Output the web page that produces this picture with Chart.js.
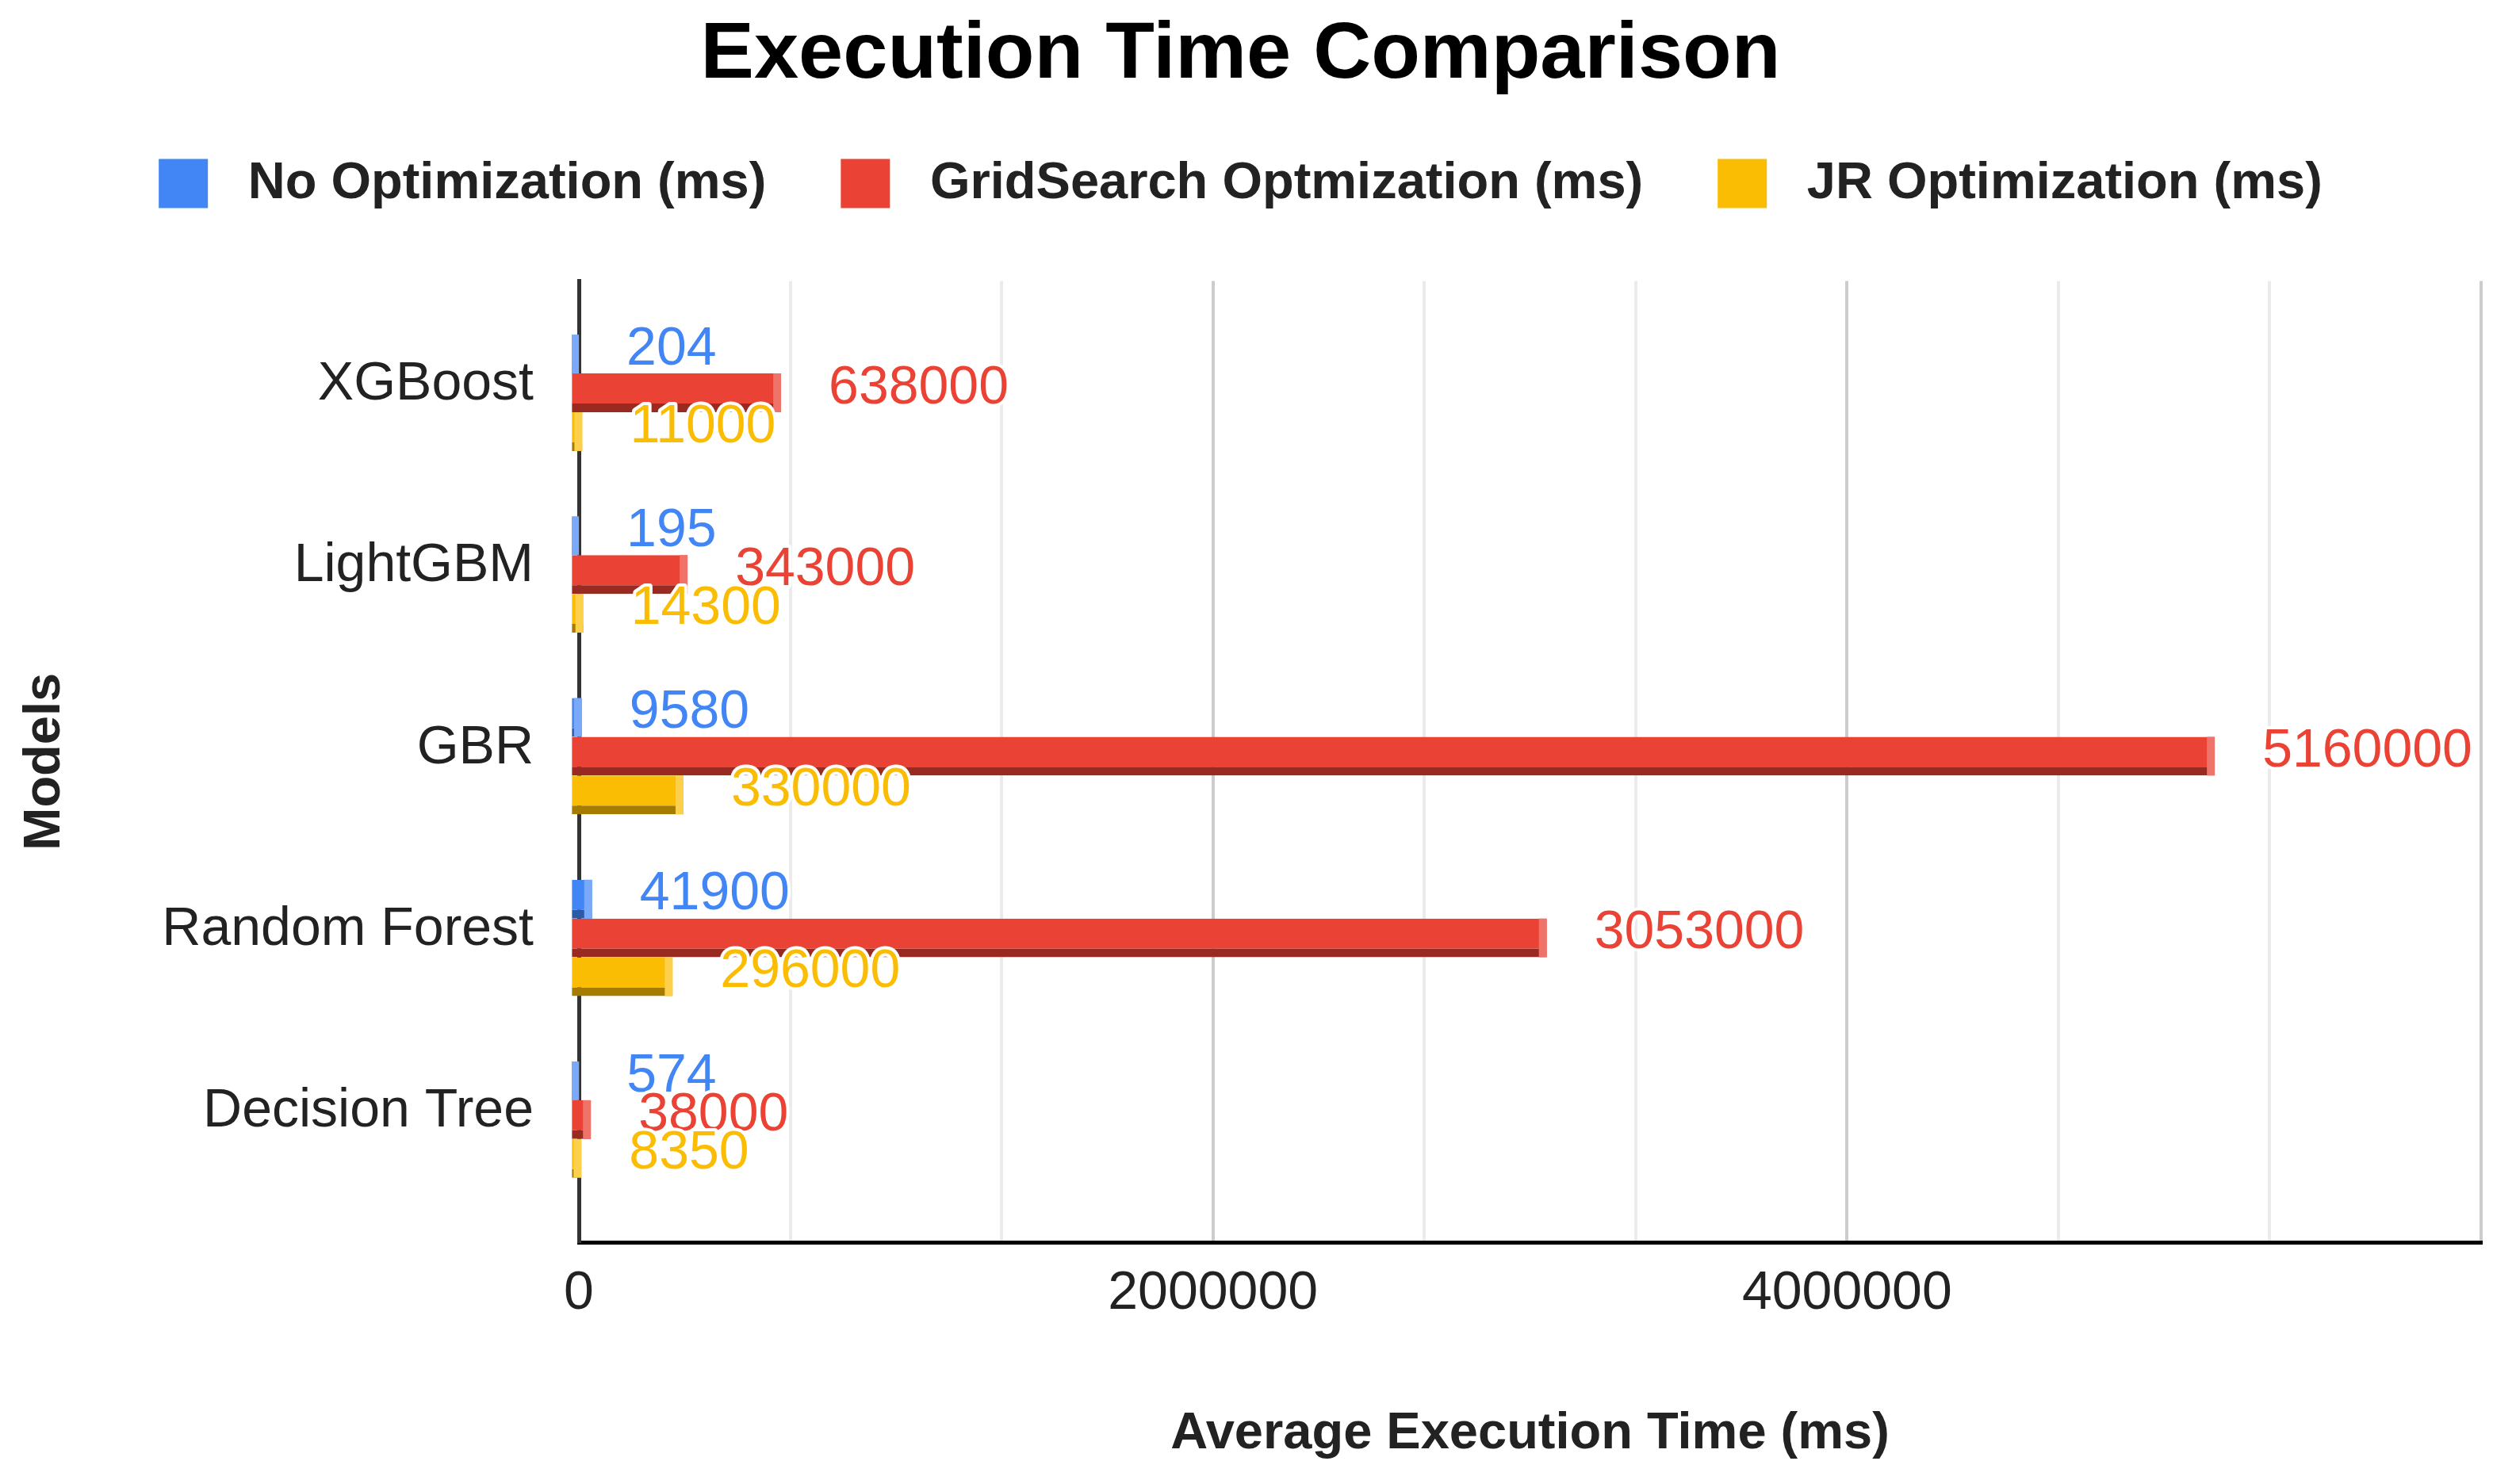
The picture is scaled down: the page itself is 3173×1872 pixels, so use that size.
<!DOCTYPE html>
<html>
<head>
<meta charset="utf-8">
<script src="https://cdn.jsdelivr.net/npm/chart.js@4.4.1/dist/chart.umd.min.js"></script>
<style>
html,body{margin:0;padding:0;background:#fff;overflow:hidden}
canvas{display:block}
</style>
</head>
<body>
<canvas id="c" width="3173" height="1872"></canvas>
<script>
// ---- data ----
const categories = ['XGBoost', 'LightGBM', 'GBR', 'Random Forest', 'Decision Tree'];
const seriesNames = ['No Optimization (ms)', 'GridSearch Optmization (ms)', 'JR Optimization (ms)'];
const noOptimization = [204, 195, 9580, 41900, 574];
const gridSearchOptimization = [638000, 343000, 5160000, 3053000, 38000];
const jrOptimization = [11000, 14300, 330000, 296000, 8350];
const xTickValues = [0, 666667, 1333333, 2000000, 2666667, 3333333, 4000000, 4666667, 5333333, 6000000];
const xTickLabels = ['0', '', '', '2000000', '', '', '4000000', '', '', ''];
const xMajorTicks = [0, 2000000, 4000000, 6000000];

// ---- styles ----
const FONT = "'Liberation Sans', Arial, sans-serif";
Chart.defaults.font.family = FONT;
Chart.defaults.color = '#222';

const palette = [
  {main: '#4285f4', shadow: '#2b5aa8', cap: '#79a9f8'},
  {main: '#ea4335', shadow: '#992a22', cap: '#f0736a'},
  {main: '#fbbc04', shadow: '#a67c00', cap: '#fdd04c'}
];
const seriesData = [noOptimization, gridSearchOptimization, jrOptimization];

const barDecor = {
  id: 'barDecor',
  afterDatasetsDraw(chart) {
    const ctx = chart.ctx;
    ctx.save();
    chart.data.datasets.forEach((ds, di) => {
      const meta = chart.getDatasetMeta(di);
      meta.data.forEach((bar) => {
        const p = bar.getProps(['x', 'y', 'base', 'height'], true);
        const w = Math.min(10, p.x - p.base);
        ctx.fillStyle = palette[di].cap;
        ctx.fillRect(p.x - w, p.y - p.height / 2, w, p.height);
      });
    });
    ctx.font = '68px ' + FONT;
    ctx.textBaseline = 'middle';
    ctx.textAlign = 'left';
    ctx.lineJoin = 'round';
    chart.data.datasets.forEach((ds, di) => {
      const meta = chart.getDatasetMeta(di);
      meta.data.forEach((bar, j) => {
        const p = bar.getProps(['x', 'y'], true);
        const t = String(ds.data[j]);
        const tx = p.x + 60, ty = p.y - 5.5;
        ctx.lineWidth = 8;
        ctx.strokeStyle = '#ffffff';
        ctx.strokeText(t, tx, ty);
        ctx.fillStyle = palette[di].main;
        ctx.fillText(t, tx, ty);
      });
    });
    ctx.restore();
  }
};

new Chart(document.getElementById('c'), {
  type: 'bar',
  data: {
    labels: categories.map((_, i) => i),
    datasets: seriesNames.map((name, i) => ({
      label: name,
      data: seriesData[i],
      backgroundColor: palette[i].main,
      borderColor: palette[i].shadow
    }))
  },
  options: {
    indexAxis: 'y',
    responsive: false,
    animation: false,
    devicePixelRatio: 1,
    layout: {padding: {left: 0, right: 44, top: 0, bottom: 0}},
    datasets: {
      bar: {
        categoryPercentage: 0.64,
        barPercentage: 1,
        borderWidth: {top: 0, right: 0, bottom: 11, left: 0},
        base: -22000,
        clip: false
      }
    },
    scales: {
      x: {
        type: 'linear',
        position: 'bottom',
        min: 0,
        max: 6000000,
        afterBuildTicks: s => { s.ticks = xTickValues.map(v => ({value: v})); },
        afterFit: s => { s.height = 305; },
        grid: {
          color: c => (c.tick && xMajorTicks.includes(c.tick.value)) ? '#cccccc' : '#ebebeb',
          lineWidth: 4,
          drawTicks: false
        },
        border: {display: true, color: '#000', width: 5},
        ticks: {
          autoSkip: false, maxRotation: 0, minRotation: 0, padding: 24,
          color: '#222', font: {size: 68},
          callback: (v, i) => xTickLabels[i]
        },
        title: {
          display: true, text: 'Average Execution Time (ms)', color: '#222',
          font: {size: 65, weight: 'bold'}, padding: {top: 0, bottom: 24}
        }
      },
      y: {
        type: 'linear',
        reverse: true,
        offset: false,
        min: -0.615,
        max: 4.675,
        afterBuildTicks: s => { s.ticks = categories.map((_, i) => ({value: i})); },
        afterFit: s => { s.width = 730; },
        grid: {display: false, drawTicks: false, offset: false},
        border: {display: true, color: '#333', width: 5},
        ticks: {
          autoSkip: false, padding: 57, labelOffset: -10,
          color: '#222', font: {size: 68},
          callback: v => categories[v]
        },
        title: {
          display: true, text: 'Models', color: '#222',
          font: {size: 65, weight: 'bold'}, padding: {top: 18, bottom: 0}
        }
      }
    },
    plugins: {
      title: {
        display: true, text: 'Execution Time Comparison', color: '#000',
        font: {size: 101, weight: 'bold', lineHeight: 0.6},
        padding: {top: 40, bottom: 4.5}
      },
      subtitle: {
        display: true, text: '', position: 'top', weight: 500,
        font: {size: 10, lineHeight: 1}, padding: {top: 70.5, bottom: 0}
      },
      legend: {
        display: true, position: 'top', align: 'center',
        labels: {
          boxWidth: 62, boxHeight: 62, padding: 94, color: '#222',
          font: {size: 65, weight: 'bold'},
          generateLabels(chart) {
            const items = Chart.defaults.plugins.legend.labels.generateLabels(chart);
            return items.map(it => Object.assign(it, {text: ' ' + it.text, lineWidth: 0, strokeStyle: 'rgba(0,0,0,0)'}));
          }
        }
      },
      tooltip: {enabled: false}
    }
  },
  plugins: [barDecor]
});
</script>
</body>
</html>
